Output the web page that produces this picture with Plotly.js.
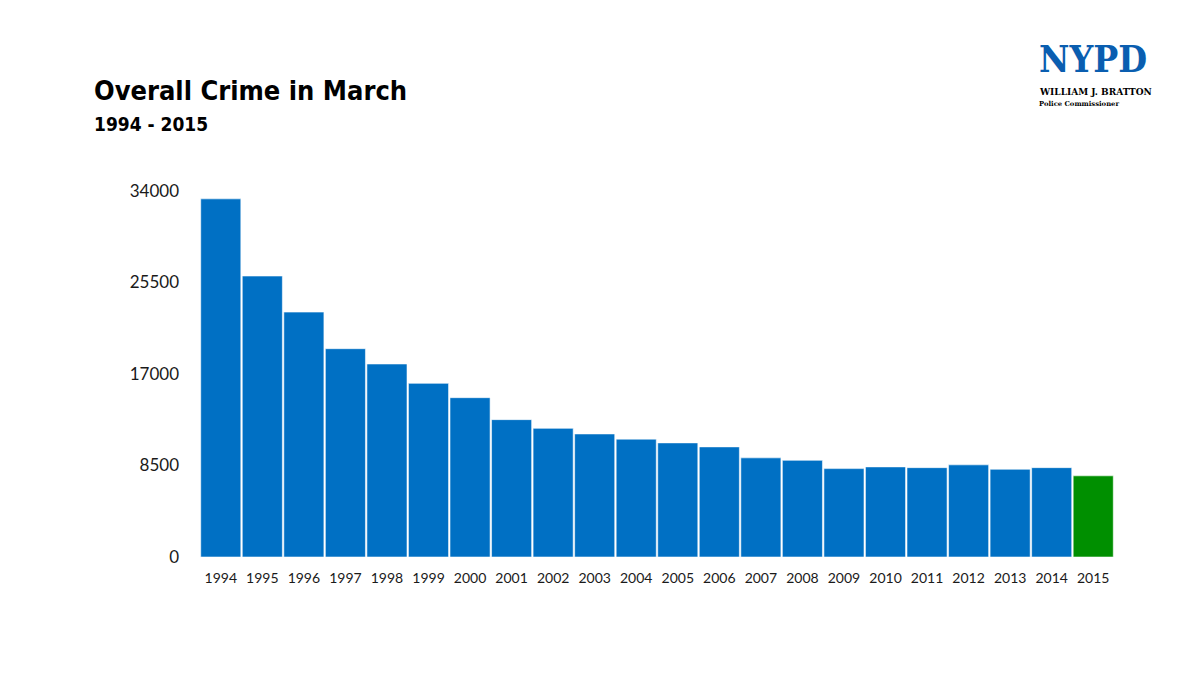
<!DOCTYPE html>
<html>
<head>
<meta charset="utf-8">
<script src="https://cdn.plot.ly/plotly-3.0.1.min.js"></script>
<style>html,body{margin:0;padding:0;background:#fff;}#chart{width:1200px;height:675px;}</style>
</head>
<body>
<div id="chart"></div>
<script>
const years = ["1994","1995","1996","1997","1998","1999","2000","2001","2002","2003","2004","2005","2006","2007","2008","2009","2010","2011","2012","2013","2014","2015"];
const crimes = [33270,26100,22750,19350,17930,16130,14800,12760,11950,11430,10950,10600,10230,9210,8980,8210,8370,8300,8560,8150,8300,7540];
const yTicks = [0,8500,17000,25500,34000];
const barColors = years.map((y,i)=> i===years.length-1 ? "#008f00" : "#0070c4");

const L=200, R=86, T=191, B=118, W=1200, H=675;
const pw = W-L-R, ph = H-T-B;
const px = x => (x-L)/pw;
const py = y => (H-B-y)/ph;

const trace = {
  type: "bar",
  x: years,
  y: crimes,
  marker: {color: barColors, line: {color: "rgba(255,255,255,0.55)", width: 1}},
  hoverinfo: "x+y"
};

const titleFont = "DejaVu Sans Condensed, sans-serif";
const layout = {
  width: W, height: H,
  margin: {l: L, r: R, t: T, b: B},
  paper_bgcolor: "#fff", plot_bgcolor: "#fff",
  bargap: 0.035,
  showlegend: false,
  font: {family: "Lato, Open Sans, sans-serif", color: "#1a1a1a"},
  xaxis: {
    type: "category",
    showgrid: false, zeroline: false, showline: false,
    tickfont: {size: 14, family: "Lato, Open Sans, sans-serif", color: "#1a1a1a"},
    ticks: "", ticklabelstandoff: 11
  },
  yaxis: {
    range: [0, 34000],
    tickvals: yTicks,
    ticktext: yTicks.map(String),
    showgrid: false, zeroline: false, showline: false,
    tickfont: {size: 17, family: "Lato, Open Sans, sans-serif", color: "#1a1a1a"},
    ticks: "", ticklabelstandoff: 20
  },
  annotations: [
    {text: "<b>Overall Crime in March</b>", xref: "paper", yref: "paper", x: px(92), y: py(91), xanchor: "left", yanchor: "middle", showarrow: false, font: {family: titleFont, size: 27, color: "#000"}},
    {text: "<b>1994 - 2015</b>", xref: "paper", yref: "paper", x: px(92), y: py(124.5), xanchor: "left", yanchor: "middle", showarrow: false, font: {family: titleFont, size: 19, color: "#000"}},
    {text: "<b>NYPD</b>", xref: "paper", yref: "paper", x: px(1037), y: py(58.5), xanchor: "left", yanchor: "middle", showarrow: false, font: {family: "DejaVu Serif Condensed, DejaVu Serif, serif", size: 37, color: "#0a5eb0"}},
    {text: "<b>WILLIAM J. BRATTON</b>", xref: "paper", yref: "paper", x: px(1037), y: py(92.3), xanchor: "left", yanchor: "middle", showarrow: false, font: {family: "DejaVu Serif, serif", size: 9, color: "#000"}},
    {text: "<b>Police Commissioner</b>", xref: "paper", yref: "paper", x: px(1037), y: py(104), xanchor: "left", yanchor: "middle", showarrow: false, font: {family: "DejaVu Serif, serif", size: 6.8, color: "#000"}}
  ]
};

Plotly.newPlot("chart", [trace], layout, {displayModeBar: false, staticPlot: true});
</script>
</body>
</html>
